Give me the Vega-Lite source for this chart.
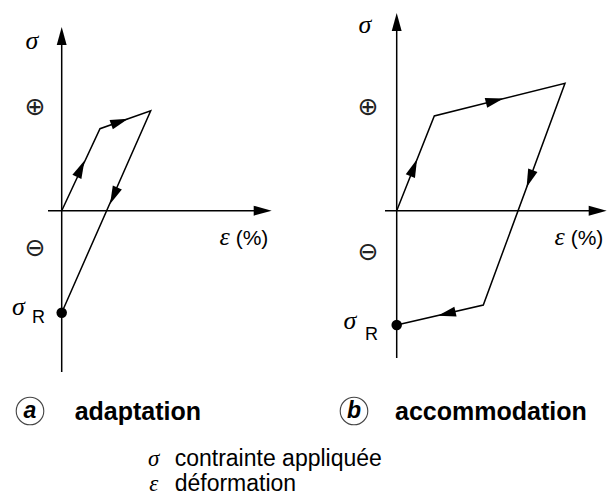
{
  "$schema": "https://vega.github.io/schema/vega-lite/v6.json",
  "padding": 0,
  "background": "white",
  "bounds": "flush",
  "spacing": 0,
  "config": {"view": {"stroke": null}},
  "hconcat": [
    {
      "width": 305,
      "height": 498,
      "data": {"values": [
        {"role": "axis", "e": 0, "s": -16.13, "e2": 0, "s2": 17.6},
        {"role": "axis", "e": -1.37, "s": 0, "e2": 20.2, "s2": 0},
        {"role": "path", "k": 1, "e": 0, "s": 0},
        {"role": "path", "k": 2, "e": 3.83, "s": 8.2},
        {"role": "path", "k": 3, "e": 8.9, "s": 10.0},
        {"role": "path", "k": 4, "e": 0, "s": -10.2},
        {"role": "arrow", "e": 0, "s": 17.47, "ang": 0},
        {"role": "arrow", "e": 20.1, "s": 0, "ang": 90},
        {"role": "arrow", "e": 1.9, "s": 4.2, "ang": 25},
        {"role": "arrow", "e": 5.8, "s": 8.9, "ang": 70.6},
        {"role": "arrow", "e": 5.2, "s": 1.5, "ang": 203.8},
        {"role": "dot", "e": 0, "s": -10.2},
        {"role": "greek", "e": -2.97, "s": 16.17, "t": "σ"},
        {"role": "greek", "e": 16.3, "s": -3.43, "t": "ε"},
        {"role": "greek", "e": -4.32, "s": -10.43, "t": "σ"},
        {"role": "legsym", "e": 9.2, "s": -25.5, "t": "σ"},
        {"role": "legsym", "e": 9.2, "s": -28.03, "t": "ε"},
        {"role": "sign", "e": -2.67, "s": 10.37, "t": "⊕"},
        {"role": "sign", "e": -2.67, "s": -3.73, "t": "⊖"},
        {"role": "sub", "e": -2.97, "s": -11.23, "t": "R"},
        {"role": "unit", "e": 17.4, "s": -3.43, "t": "(%)"},
        {"role": "ring", "e": -3.17, "s": -20.03},
        {"role": "letter", "e": -3.17, "s": -20.03, "t": "a"},
        {"role": "caption", "e": 1.3, "s": -20.93, "t": "adaptation"},
        {"role": "legend", "e": 11.3, "s": -25.5, "t": "contrainte appliquée"},
        {"role": "legend", "e": 11.3, "s": -28.03, "t": "déformation"}
      ]},
      "encoding": {
        "x": {"field": "e", "type": "quantitative", "scale": {"domain": [-6.17, 24.33], "nice": false, "zero": false}, "axis": null},
        "y": {"field": "s", "type": "quantitative", "scale": {"domain": [-28.73, 21.07], "nice": false, "zero": false}, "axis": null}
      },
      "layer": [
        {"transform": [{"filter": "datum.role === 'axis'"}], "mark": {"type": "rule", "strokeWidth": 1.5, "color": "black"}, "encoding": {"x2": {"field": "e2"}, "y2": {"field": "s2"}}},
        {"transform": [{"filter": "datum.role === 'path'"}], "mark": {"type": "line", "strokeWidth": 1.5, "color": "black", "strokeJoin": "miter"}, "encoding": {"order": {"field": "k", "type": "quantitative"}}},
        {"transform": [{"filter": "datum.role === 'arrow'"}], "mark": {"type": "point", "shape": "M0,-1L0.55,1L-0.55,1Z", "filled": true, "size": 324, "color": "black", "opacity": 1}, "encoding": {"angle": {"field": "ang", "type": "quantitative", "scale": null}}},
        {"transform": [{"filter": "datum.role === 'dot'"}], "mark": {"type": "point", "shape": "circle", "filled": true, "size": 110, "color": "black", "opacity": 1}},
        {"transform": [{"filter": "datum.role === 'ring'"}], "mark": {"type": "point", "shape": "circle", "filled": false, "size": 760, "stroke": "#444", "strokeWidth": 1.1, "opacity": 1}},
        {"transform": [{"filter": "datum.role === 'greek'"}], "mark": {"type": "text", "font": "Liberation Serif", "fontStyle": "italic", "fontSize": 26, "align": "center", "baseline": "alphabetic", "color": "black"}, "encoding": {"text": {"field": "t"}}},
        {"transform": [{"filter": "datum.role === 'legsym'"}], "mark": {"type": "text", "font": "Liberation Serif", "fontStyle": "italic", "fontSize": 23, "align": "center", "baseline": "alphabetic", "color": "black"}, "encoding": {"text": {"field": "t"}}},
        {"transform": [{"filter": "datum.role === 'sign'"}], "mark": {"type": "text", "font": "DejaVu Sans", "fontSize": 25, "align": "center", "baseline": "middle", "color": "#222"}, "encoding": {"text": {"field": "t"}}},
        {"transform": [{"filter": "datum.role === 'sub'"}], "mark": {"type": "text", "font": "Liberation Sans", "fontSize": 18, "align": "left", "baseline": "alphabetic", "color": "black"}, "encoding": {"text": {"field": "t"}}},
        {"transform": [{"filter": "datum.role === 'unit'"}], "mark": {"type": "text", "font": "Liberation Sans", "fontSize": 21, "align": "left", "baseline": "alphabetic", "color": "black"}, "encoding": {"text": {"field": "t"}}},
        {"transform": [{"filter": "datum.role === 'letter'"}], "mark": {"type": "text", "font": "Liberation Sans", "fontStyle": "italic", "fontWeight": "bold", "fontSize": 23, "align": "center", "baseline": "middle", "color": "black"}, "encoding": {"text": {"field": "t"}}},
        {"transform": [{"filter": "datum.role === 'caption'"}], "mark": {"type": "text", "font": "Liberation Sans", "fontWeight": "bold", "fontSize": 25, "align": "left", "baseline": "alphabetic", "color": "black"}, "encoding": {"text": {"field": "t"}}},
        {"transform": [{"filter": "datum.role === 'legend'"}], "mark": {"type": "text", "font": "Liberation Sans", "fontSize": 23, "align": "left", "baseline": "alphabetic", "color": "black"}, "encoding": {"text": {"field": "t"}}}
      ]
    },
    {
      "width": 305,
      "height": 498,
      "data": {"values": [
        {"role": "axis", "e": 0, "s": -14.73, "e2": 0, "s2": 19.0},
        {"role": "axis", "e": -1.17, "s": 0, "e2": 20.2, "s2": 0},
        {"role": "path", "k": 1, "e": 0, "s": 0},
        {"role": "path", "k": 2, "e": 3.76, "s": 9.47},
        {"role": "path", "k": 3, "e": 16.83, "s": 12.74},
        {"role": "path", "k": 4, "e": 8.66, "s": -9.43},
        {"role": "path", "k": 5, "e": 0, "s": -11.43},
        {"role": "arrow", "e": 0, "s": 18.87, "ang": 0},
        {"role": "arrow", "e": 20.1, "s": 0, "ang": 90},
        {"role": "arrow", "e": 1.7, "s": 4.3, "ang": 21.7},
        {"role": "arrow", "e": 9.8, "s": 11.0, "ang": 76},
        {"role": "arrow", "e": 13.3, "s": 3.2, "ang": 200.2},
        {"role": "arrow", "e": 5.0, "s": -10.3, "ang": 257},
        {"role": "dot", "e": 0, "s": -11.43},
        {"role": "greek", "e": -3.17, "s": 17.77, "t": "σ"},
        {"role": "greek", "e": 16.3, "s": -3.43, "t": "ε"},
        {"role": "greek", "e": -4.67, "s": -11.83, "t": "σ"},
        {"role": "sign", "e": -2.87, "s": 10.37, "t": "⊕"},
        {"role": "sign", "e": -2.87, "s": -4.13, "t": "⊖"},
        {"role": "sub", "e": -3.17, "s": -12.93, "t": "R"},
        {"role": "unit", "e": 17.4, "s": -3.43, "t": "(%)"},
        {"role": "ring", "e": -4.27, "s": -20.03},
        {"role": "letter", "e": -4.27, "s": -20.03, "t": "b"},
        {"role": "caption", "e": -0.17, "s": -20.93, "t": "accommodation"}
      ]},
      "encoding": {
        "x": {"field": "e", "type": "quantitative", "scale": {"domain": [-9.17, 21.33], "nice": false, "zero": false}, "axis": null},
        "y": {"field": "s", "type": "quantitative", "scale": {"domain": [-28.73, 21.07], "nice": false, "zero": false}, "axis": null}
      },
      "layer": [
        {"transform": [{"filter": "datum.role === 'axis'"}], "mark": {"type": "rule", "strokeWidth": 1.5, "color": "black"}, "encoding": {"x2": {"field": "e2"}, "y2": {"field": "s2"}}},
        {"transform": [{"filter": "datum.role === 'path'"}], "mark": {"type": "line", "strokeWidth": 1.5, "color": "black", "strokeJoin": "miter"}, "encoding": {"order": {"field": "k", "type": "quantitative"}}},
        {"transform": [{"filter": "datum.role === 'arrow'"}], "mark": {"type": "point", "shape": "M0,-1L0.55,1L-0.55,1Z", "filled": true, "size": 324, "color": "black", "opacity": 1}, "encoding": {"angle": {"field": "ang", "type": "quantitative", "scale": null}}},
        {"transform": [{"filter": "datum.role === 'dot'"}], "mark": {"type": "point", "shape": "circle", "filled": true, "size": 110, "color": "black", "opacity": 1}},
        {"transform": [{"filter": "datum.role === 'ring'"}], "mark": {"type": "point", "shape": "circle", "filled": false, "size": 760, "stroke": "#444", "strokeWidth": 1.1, "opacity": 1}},
        {"transform": [{"filter": "datum.role === 'greek'"}], "mark": {"type": "text", "font": "Liberation Serif", "fontStyle": "italic", "fontSize": 26, "align": "center", "baseline": "alphabetic", "color": "black"}, "encoding": {"text": {"field": "t"}}},
        {"transform": [{"filter": "datum.role === 'sign'"}], "mark": {"type": "text", "font": "DejaVu Sans", "fontSize": 25, "align": "center", "baseline": "middle", "color": "#222"}, "encoding": {"text": {"field": "t"}}},
        {"transform": [{"filter": "datum.role === 'sub'"}], "mark": {"type": "text", "font": "Liberation Sans", "fontSize": 18, "align": "left", "baseline": "alphabetic", "color": "black"}, "encoding": {"text": {"field": "t"}}},
        {"transform": [{"filter": "datum.role === 'unit'"}], "mark": {"type": "text", "font": "Liberation Sans", "fontSize": 21, "align": "left", "baseline": "alphabetic", "color": "black"}, "encoding": {"text": {"field": "t"}}},
        {"transform": [{"filter": "datum.role === 'letter'"}], "mark": {"type": "text", "font": "Liberation Sans", "fontStyle": "italic", "fontWeight": "bold", "fontSize": 23, "align": "center", "baseline": "middle", "color": "black"}, "encoding": {"text": {"field": "t"}}},
        {"transform": [{"filter": "datum.role === 'caption'"}], "mark": {"type": "text", "font": "Liberation Sans", "fontWeight": "bold", "fontSize": 25, "align": "left", "baseline": "alphabetic", "color": "black"}, "encoding": {"text": {"field": "t"}}}
      ]
    }
  ]
}
